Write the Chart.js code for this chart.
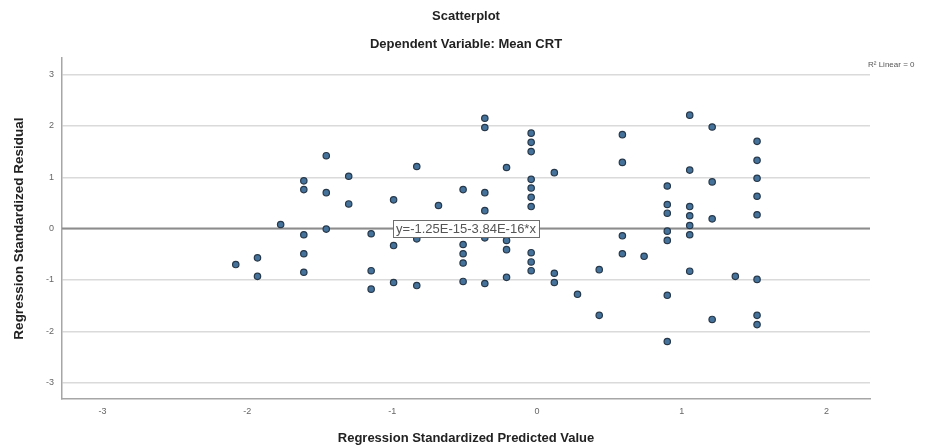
<!DOCTYPE html>
<html>
<head>
<meta charset="utf-8">
<script src="https://cdn.jsdelivr.net/npm/chart.js@4.4.1/dist/chart.umd.min.js"></script>
<style>
  html, body { margin: 0; padding: 0; background: #fff; }
  #wrap { width: 942px; height: 446px; }
</style>
</head>
<body>
<div id="wrap"><canvas id="scatter"></canvas></div>
<script>
// valores (predicho estandarizado vs residuo estandarizado)
const predicted = [
  -2.08,
  -1.93, -1.93,
  -1.77,
  -1.61, -1.61, -1.61, -1.61, -1.61,
  -1.455, -1.455, -1.455,
  -1.30, -1.30,
  -1.145, -1.145, -1.145,
  -0.99, -0.99, -0.99,
  -0.83, -0.83, -0.83,
  -0.68,
  -0.51, -0.51, -0.51, -0.51, -0.51,
  -0.36, -0.36, -0.36, -0.36, -0.36, -0.36,
  -0.21, -0.21, -0.21, -0.21,
  -0.04, -0.04, -0.04, -0.04, -0.04, -0.04, -0.04, -0.04, -0.04, -0.04,
  0.12, 0.12, 0.12,
  0.28,
  0.43, 0.43,
  0.59, 0.59, 0.59, 0.59,
  0.74,
  0.90, 0.90, 0.90, 0.90, 0.90, 0.90, 0.90,
  1.055, 1.055, 1.055, 1.055, 1.055, 1.055, 1.055,
  1.21, 1.21, 1.21, 1.21,
  1.37,
  1.52, 1.52, 1.52, 1.52, 1.52, 1.52, 1.52, 1.52
];
const residual = [
  -0.70,
  -0.57, -0.93,
  0.08,
  0.93, 0.76, -0.12, -0.49, -0.85,
  1.42, 0.70, -0.01,
  1.02, 0.48,
  -0.10, -0.82, -1.18,
  0.56, -0.33, -1.05,
  1.21, -0.20, -1.11,
  0.45,
  0.76, -0.31, -0.49, -0.67, -1.03,
  2.15, 1.97, 0.70, 0.35, -0.18, -1.07,
  1.19, -0.23, -0.41, -0.95,
  1.86, 1.68, 1.50, 0.96, 0.79, 0.61, 0.43, -0.47, -0.65, -0.82,
  1.09, -0.87, -1.05,
  -1.28,
  -0.80, -1.69,
  1.83, 1.29, -0.14, -0.49,
  -0.54,
  0.83, 0.47, 0.30, -0.05, -0.23, -1.30, -2.20,
  2.21, 1.14, 0.43, 0.25, 0.06, -0.12, -0.83,
  1.98, 0.91, 0.19, -1.77,
  -0.93,
  1.70, 1.33, 0.98, 0.63, 0.27, -0.99, -1.69, -1.87
];

// recta de ajuste y rango de los ejes
const fitIntercept = -1.25e-15;
const fitSlope = -3.84e-16;
const fitLabel = 'y=-1.25E-15-3.84E-16*x';
const r2Label = 'R\u00B2 Linear = 0';
const xRange = [-3.28, 2.30];
const yRange = [-3.32, 3.32];

const FONT = "'Liberation Sans', Arial, sans-serif";

let points = predicted.map((x, i) => ({ x: x, y: residual[i] }));
let fitLine = xRange.map(x => ({ x: x, y: fitIntercept + fitSlope * x }));

// etiquetas de la recta y del R2
const fitLabelPlugin = {
  id: 'fitLabel',
  afterDatasetsDraw(chart) {
    const { ctx, chartArea, scales } = chart;
    const cx = (chartArea.left + chartArea.right) / 2;
    const cy = scales.y.getPixelForValue(fitIntercept + fitSlope * scales.x.getValueForPixel(cx));
    ctx.save();
    ctx.font = '13px ' + FONT;
    const w = ctx.measureText(fitLabel).width + 6;
    const h = 17;
    ctx.fillStyle = '#fff';
    ctx.fillRect(cx - w / 2, cy - h / 2, w, h);
    ctx.strokeStyle = '#6e6e6e';
    ctx.lineWidth = 1;
    ctx.strokeRect(Math.round(cx - w / 2) + 0.5, Math.round(cy - h / 2) + 0.5, Math.round(w), h);
    ctx.fillStyle = '#555';
    ctx.textAlign = 'center';
    ctx.textBaseline = 'middle';
    ctx.fillText(fitLabel, cx, cy + 1);

    ctx.font = '8px ' + FONT;
    ctx.textAlign = 'left';
    ctx.fillStyle = '#555';
    ctx.fillText(r2Label, chartArea.right - 2, chartArea.top + 7);
    ctx.restore();
  }
};

let ctx = document.getElementById('scatter').getContext('2d');
let scatterChart = new Chart(ctx, {
  type: 'scatter',
  data: {
    datasets: [
      {
        label: 'Residuals',
        data: points,
        backgroundColor: '#45729a',
        borderColor: '#26384a',
        borderWidth: 1.2,
        pointRadius: 3.2,
        order: 1
      },
      {
        label: 'Fit line',
        data: fitLine,
        showLine: true,
        borderColor: '#8c8c8c',
        borderWidth: 2,
        pointRadius: 0,
        fill: false,
        order: 2
      }
    ]
  },
  options: {
    responsive: true,
    maintainAspectRatio: false,
    animation: false,
    events: [],
    layout: { padding: { left: 0, right: 72, top: 0, bottom: 0 } },
    plugins: {
      legend: { display: false },
      tooltip: { enabled: false },
      title: {
        display: true,
        text: 'Scatterplot',
        fullSize: false,
        color: '#222',
        font: { family: FONT, size: 13, weight: 'bold' },
        padding: { top: 9, bottom: 12 }
      },
      subtitle: {
        display: true,
        text: 'Dependent Variable: Mean CRT',
        fullSize: false,
        color: '#222',
        font: { family: FONT, size: 13, weight: 'bold' },
        padding: { top: 0, bottom: 6 }
      }
    },
    scales: {
      x: {
        type: 'linear',
        min: xRange[0],
        max: xRange[1],
        afterFit(scale) { scale.height = 47; },
        grid: { display: false, drawTicks: false },
        border: { display: true, color: '#a6a6a6', width: 1.5 },
        ticks: {
          stepSize: 1,
          includeBounds: false,
          color: '#666',
          padding: 7,
          font: { family: FONT, size: 9 }
        },
        title: {
          display: true,
          text: 'Regression Standardized Predicted Value',
          color: '#222',
          font: { family: FONT, size: 13, weight: 'bold' },
          padding: { top: 0, bottom: 0 }
        }
      },
      y: {
        type: 'linear',
        min: yRange[0],
        max: yRange[1],
        afterFit(scale) { scale.width = 62; },
        grid: { color: '#dadada', lineWidth: 1.5, drawTicks: false },
        border: { display: true, color: '#a6a6a6', width: 1.5 },
        ticks: {
          stepSize: 1,
          includeBounds: false,
          color: '#666',
          padding: 8,
          font: { family: FONT, size: 9 }
        },
        title: {
          display: true,
          text: 'Regression Standardized Residual',
          color: '#222',
          font: { family: FONT, size: 13.5, weight: 'bold' },
          padding: { top: 11, bottom: 0 }
        }
      }
    }
  },
  plugins: [fitLabelPlugin]
});
</script>
</body>
</html>
